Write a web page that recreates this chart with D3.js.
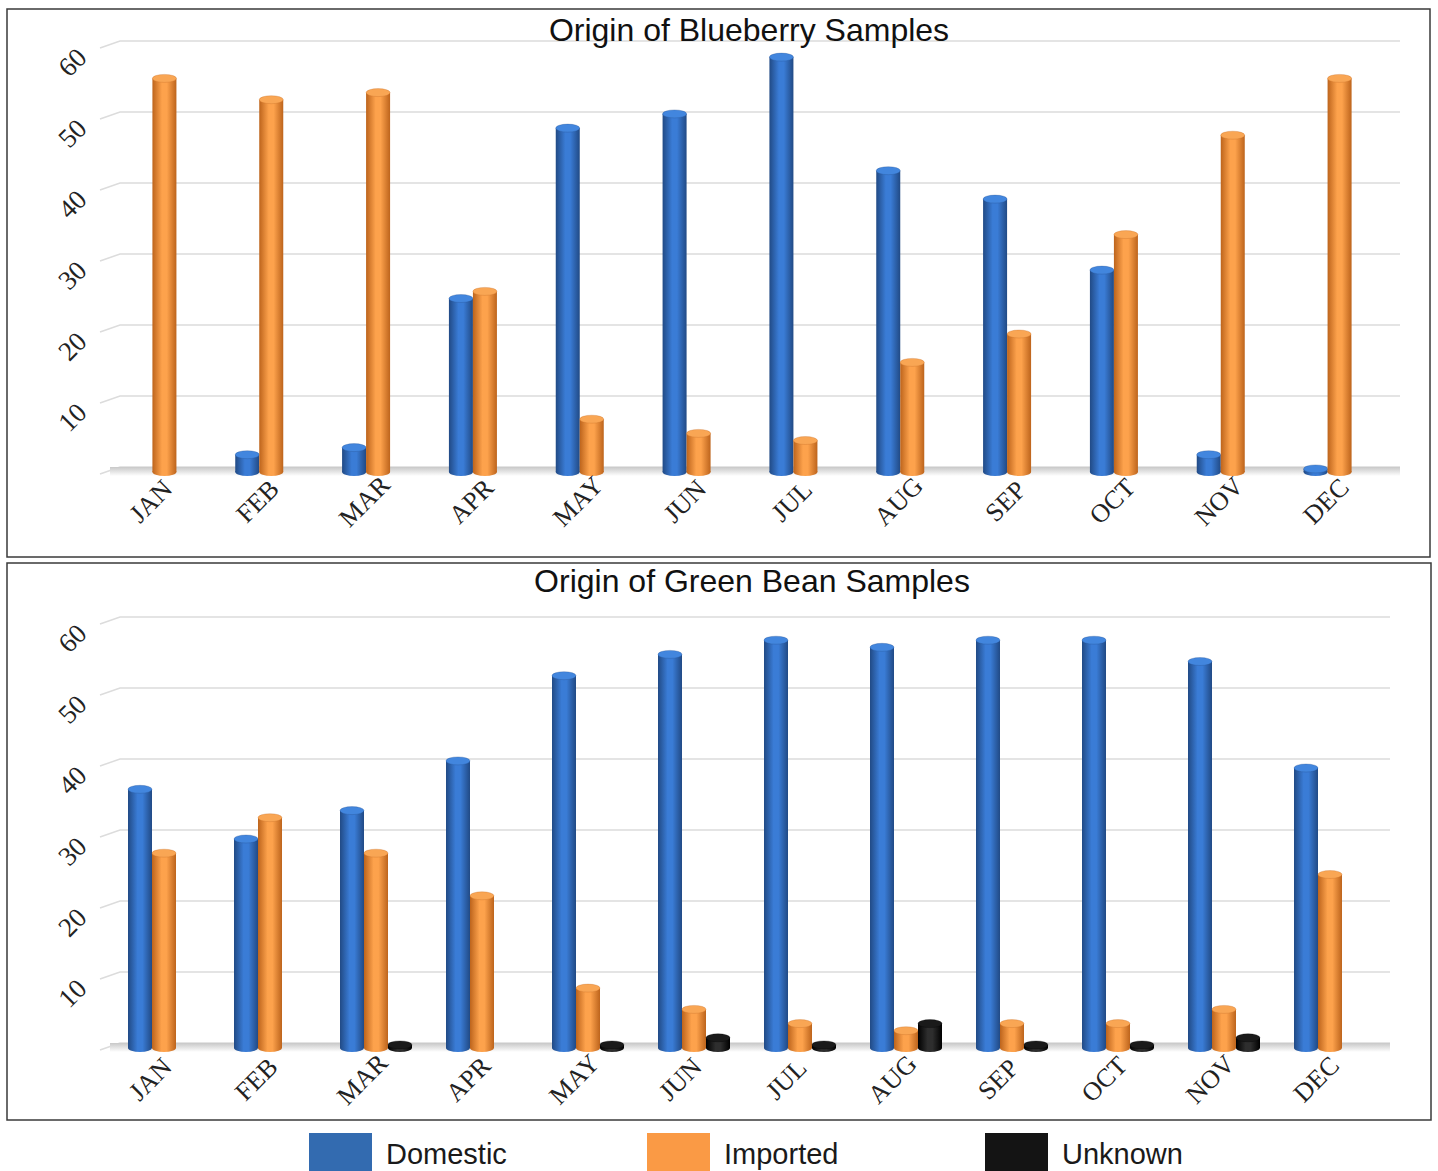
<!DOCTYPE html>
<html>
<head>
<meta charset="utf-8">
<script src="https://cdn.jsdelivr.net/npm/d3@7"></script>
<style>
  body { margin: 0; background: #fff; }
  svg { display: block; }
</style>
</head>
<body>
<div class="chart"></div>
<script>
// Month categories and tick values
const months = ["JAN", "FEB", "MAR", "APR", "MAY", "JUN", "JUL", "AUG", "SEP", "OCT", "NOV", "DEC"]
const yTicks = [0, 10, 20, 30, 40, 50, 60]
const seriesNames = ["Domestic", "Imported", "Unknown"]

// Blueberry samples
const blueberryDomestic = [0, 3, 4, 25, 49, 51, 59, 43, 39, 29, 3, 1]
const blueberryImported = [56, 53, 54, 26, 8, 6, 5, 16, 20, 34, 48, 56]

// Green bean samples
const greenBeanDomestic = [37, 30, 34, 41, 53, 56, 58, 57, 58, 58, 55, 40]
const greenBeanImported = [28, 33, 28, 22, 9, 6, 4, 3, 4, 4, 6, 25]
const greenBeanUnknown = [0, 0, 1, 0, 1, 2, 1, 4, 1, 1, 2, 0]

const width = 1438
const height = 1171

const svg = d3.select(".chart").append("svg")
    .attr("width", width)
    .attr("height", height)
    .attr("viewBox", [0, 0, width, height])

// colours: edge, middle, cap
const palette = {
    Domestic: {edge: "#214a85", mid: "#3a7cd6", cap: "#4286de", legend: "#336bb0"},
    Imported: {edge: "#bd641c", mid: "#fda24c", cap: "#f9a654", legend: "#fa9a45"},
    Unknown: {edge: "#000000", mid: "#2e2e2e", cap: "#1a1a1a", legend: "#141414"}
}

const defs = svg.append("defs")
seriesNames.forEach(name => {
    const c = palette[name]
    const g = defs.append("linearGradient")
        .attr("id", `grad-${name}`)
        .attr("x1", "0%").attr("x2", "100%")
    g.append("stop").attr("offset", "0%").attr("stop-color", c.edge)
    g.append("stop").attr("offset", "40%").attr("stop-color", c.mid)
    g.append("stop").attr("offset", "60%").attr("stop-color", c.mid)
    g.append("stop").attr("offset", "100%").attr("stop-color", c.edge)
})
const floorGrad = defs.append("linearGradient")
    .attr("id", "floor").attr("x1", "0").attr("x2", "0").attr("y1", "0").attr("y2", "1")
floorGrad.append("stop").attr("offset", "0%").attr("stop-color", "#c8c8c8")
floorGrad.append("stop").attr("offset", "100%").attr("stop-color", "#ffffff")

function drawPanel(cfg) {
    const g = svg.append("g")

    // frame
    g.append("rect")
        .attr("x", cfg.box[0]).attr("y", cfg.box[1])
        .attr("width", cfg.box[2]).attr("height", cfg.box[3])
        .attr("fill", "none")
        .attr("stroke", "#3a3a3a")
        .attr("stroke-width", 1.5)

    const y = d3.scaleLinear([0, 60], [cfg.floor, cfg.floor - 426])
    const x = d3.scaleBand(months, cfg.xRange)
    const barW = 24
    const keys = cfg.series.map(s => s.name)
    const xs = d3.scaleBand(keys, [0, barW * keys.length])

    // gridlines with the little slanted wall edge on the left
    const grid = g.append("g")
        .attr("stroke", "#dcdcdc")
        .attr("stroke-width", 1.5)
        .attr("fill", "none")
    grid.selectAll("path")
        .data(yTicks)
        .join("path")
        .attr("d", d => `M100,${y(d) + 7}L120,${y(d)}H${cfg.gridEnd}`)

    // floor shadow
    g.append("rect")
        .attr("x", 110).attr("y", cfg.floor)
        .attr("width", cfg.gridEnd - 110).attr("height", 9)
        .attr("fill", "url(#floor)")

    // y tick labels
    g.append("g")
        .selectAll("text")
        .data(yTicks.filter(d => d > 0))
        .join("text")
        .attr("transform", d => `translate(72,${y(d) + 21}) rotate(-45)`)
        .attr("text-anchor", "middle")
        .attr("dy", "0.35em")
        .attr("font-family", "Liberation Serif, serif")
        .attr("font-size", 27)
        .attr("fill", "#222")
        .text(d => d)

    // bars drawn as cylinders, pushed down a few pixels for the 3D depth
    const depth = 5
    const ry = 4
    const bars = g.append("g").attr("transform", `translate(0,${depth})`)
    cfg.series.forEach(s => {
        const data = months.map((m, i) => ({month: m, value: s.values[i]})).filter(d => d.value > 0)
        const left = d => x(d.month) + x.bandwidth() / 2 - barW * keys.length / 2 + xs(s.name)
        const cyl = bars.append("g")
            .selectAll("g")
            .data(data)
            .join("g")
        cyl.append("ellipse")
            .attr("cx", d => left(d) + barW / 2)
            .attr("cy", y(0))
            .attr("rx", barW / 2)
            .attr("ry", ry)
            .attr("fill", `url(#grad-${s.name})`)
        cyl.append("rect")
            .attr("x", left)
            .attr("y", d => y(d.value) + ry)
            .attr("width", barW)
            .attr("height", d => Math.max(0, y(0) - y(d.value) - ry))
            .attr("fill", `url(#grad-${s.name})`)
        cyl.append("ellipse")
            .attr("cx", d => left(d) + barW / 2)
            .attr("cy", d => y(d.value) + ry)
            .attr("rx", barW / 2)
            .attr("ry", ry)
            .attr("fill", palette[s.name].cap)
            .attr("stroke", palette[s.name].edge)
            .attr("stroke-opacity", 0.35)
            .attr("stroke-width", 0.8)
    })

    // x tick labels
    g.append("g")
        .selectAll("text")
        .data(months)
        .join("text")
        .attr("transform", m => {
            const cx = x(m) + x.bandwidth() / 2 - barW * keys.length / 2 + barW - 2
            return `translate(${cx},${cfg.floor + cfg.labelDy}) rotate(-45)`
        })
        .attr("text-anchor", "middle")
        .attr("dy", "0.35em")
        .attr("font-family", "Liberation Serif, serif")
        .attr("font-size", 26)
        .attr("fill", "#222")
        .text(m => m)

    // title
    g.append("text")
        .attr("x", cfg.titleX)
        .attr("y", cfg.titleY)
        .attr("text-anchor", "middle")
        .attr("font-family", "Liberation Sans, Arial, sans-serif")
        .attr("font-size", 32)
        .attr("fill", "#111")
        .text(cfg.title)
}

drawPanel({
    title: "Origin of Blueberry Samples",
    titleX: 749, titleY: 41,
    box: [7, 9, 1423, 548],
    floor: 467,
    gridEnd: 1400,
    xRange: [99, 1381],
    labelDy: 34,
    series: [
        {name: "Domestic", values: blueberryDomestic},
        {name: "Imported", values: blueberryImported}
    ]
})

drawPanel({
    title: "Origin of Green Bean Samples",
    titleX: 752, titleY: 592,
    box: [7, 563, 1424, 557],
    floor: 1043,
    gridEnd: 1390,
    xRange: [111, 1383],
    labelDy: 36,
    series: [
        {name: "Domestic", values: greenBeanDomestic},
        {name: "Imported", values: greenBeanImported},
        {name: "Unknown", values: greenBeanUnknown}
    ]
})

// legend
const legendX = d3.scalePoint(seriesNames, [309, 985])
const legend = svg.append("g")
    .selectAll("g")
    .data(seriesNames)
    .join("g")
    .attr("transform", d => `translate(${legendX(d)},1133)`)
legend.append("rect")
    .attr("width", 63)
    .attr("height", 40)
    .attr("fill", d => palette[d].legend)
legend.append("text")
    .attr("x", 77)
    .attr("y", 31)
    .attr("font-family", "Liberation Sans, Arial, sans-serif")
    .attr("font-size", 29)
    .attr("fill", "#1a1a1a")
    .text(d => d)
</script>
</body>
</html>
